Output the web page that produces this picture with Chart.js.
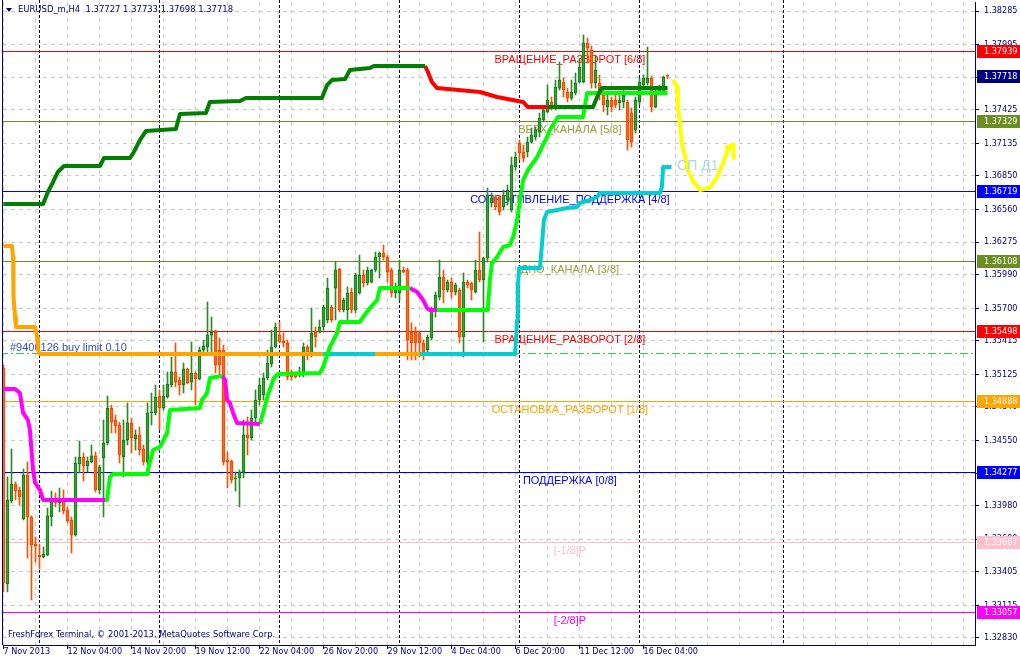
<!DOCTYPE html>
<html><head><meta charset="utf-8">
<script src="https://cdn.jsdelivr.net/npm/chart.js@4/dist/chart.umd.min.js"></script>
<style>html,body{margin:0;padding:0;background:#fff;}canvas{display:block;}</style>
</head><body>
<canvas id="c" width="1020" height="660"></canvas>
<script>
// ---------------- DATA ----------------
const symbolTitle = 'EURUSD_m,H4';
const lastBarOHLC = [1.37727, 1.37733, 1.37698, 1.37718];
const footerText = 'FreshForex Terminal, \u00A9 2001-2013, MetaQuotes Software Corp.';
const timeLabels = ['7 Nov 2013','12 Nov 04:00','14 Nov 20:00','19 Nov 12:00','22 Nov 04:00','26 Nov 20:00','29 Nov 12:00','4 Dec 04:00','6 Dec 20:00','11 Dec 12:00','16 Dec 04:00'];
const priceTicks = [1.32830,1.33115,1.33405,1.33690,1.33980,1.34265,1.34550,1.34840,1.35125,1.35415,1.35700,1.35990,1.36275,1.36560,1.36850,1.37135,1.37425,1.37710,1.37995,1.38285];
const weekSeparators = [9, 39, 69, 99, 129, 159, 195];

const opens = [
1.35179,1.33300,1.34022,1.34170,1.34118,1.33866,1.34248,1.33883,1.33648,1.33552,
1.33535,1.33552,1.33883,1.34048,1.34005,1.34040,1.33944,1.33857,1.33726,1.34344,
1.34405,1.34327,1.34362,1.34414,1.34118,1.34396,1.34527,1.34831,1.34727,1.34683,
1.34405,1.34553,1.34701,1.34562,1.34597,1.34475,1.34362,1.34788,1.34788,1.34936,
1.34831,1.34927,1.35031,1.35145,1.35075,1.35031,1.35171,1.35057,1.35136,1.35084,
1.35336,1.35362,1.35466,1.35492,1.35336,1.35336,1.34379,1.34370,1.34214,1.34222,
1.34275,1.34597,1.34570,1.34744,1.34901,1.34944,1.35092,1.35214,1.35362,1.35466,
1.35414,1.35397,1.35145,1.35136,1.35118,1.35118,1.35362,1.35292,1.35492,1.35492,
1.35536,1.35597,1.35710,1.35875,1.36040,1.35684,1.35684,1.35840,1.35684,1.35832,
1.35988,1.35919,1.35927,1.36032,1.36145,1.36180,1.36145,1.36032,1.35832,1.35832,
1.36032,1.36032,1.35492,1.35492,1.35484,1.35397,1.35336,1.35440,1.35701,1.35797,
1.35971,1.35858,1.35927,1.35840,1.35858,1.35449,1.35927,1.35919,1.35840,1.36032,
1.35945,1.36136,1.36615,1.36667,1.36667,1.36580,1.36641,1.36554,1.36928,1.37137,
1.37059,1.37059,1.37145,1.37189,1.37232,1.37337,1.37407,1.37494,1.37442,1.37615,
1.37668,1.37581,1.37528,1.37572,1.37668,1.37668,1.38007,1.37946,1.37659,1.37659,
1.37555,1.37450,1.37511,1.37511,1.37485,1.37494,1.37494,1.37398,1.37250,1.37494,
1.37641,1.37659,1.37702,1.37450,1.37581,1.37581,1.37727];
const highs = [
1.35205,1.34231,1.34475,1.34188,1.34144,1.34301,1.34362,1.33892,1.33709,1.33648,
1.33622,1.33961,1.34109,1.34092,1.34135,1.34118,1.33970,1.33883,1.34405,1.34544,
1.34440,1.34405,1.34510,1.34449,1.34335,1.34727,1.34936,1.34857,1.34770,1.34709,
1.34727,1.34875,1.34744,1.34640,1.34666,1.34510,1.34875,1.34962,1.35031,1.34988,
1.35031,1.35145,1.35275,1.35397,1.35101,1.35223,1.35179,1.35406,1.35145,1.35362,
1.35423,1.35754,1.35623,1.35510,1.35440,1.35379,1.34449,1.34379,1.34275,1.34292,
1.34727,1.34753,1.34814,1.34988,1.35092,1.35136,1.35336,1.35510,1.35571,1.35580,
1.35484,1.35423,1.35162,1.35145,1.35188,1.35397,1.35379,1.35701,1.35536,1.35597,
1.35727,1.35962,1.35727,1.36101,1.36049,1.35788,1.35884,1.35875,1.36006,1.36162,
1.36032,1.36058,1.36040,1.36188,1.36188,1.36249,1.36162,1.36049,1.35919,1.36119,
1.36058,1.36049,1.35571,1.35536,1.35492,1.35423,1.35466,1.35710,1.35840,1.36119,
1.36032,1.35945,1.35962,1.35919,1.35875,1.36006,1.35945,1.35927,1.36119,1.36363,
1.36145,1.36745,1.36702,1.36684,1.36684,1.36728,1.36771,1.37015,1.37059,1.37163,
1.37119,1.37189,1.37267,1.37276,1.37398,1.37450,1.37641,1.37537,1.37685,1.37842,
1.37702,1.37615,1.37685,1.37746,1.37876,1.38077,1.38050,1.37981,1.37902,1.37728,
1.37598,1.37555,1.37537,1.37555,1.37555,1.37598,1.37511,1.37442,1.37537,1.37702,
1.37728,1.37972,1.37720,1.37598,1.37641,1.37720,1.37733];
const lows = [
1.33231,1.33231,1.34005,1.34031,1.33987,1.33857,1.33526,1.33161,1.33492,1.33431,
1.33526,1.33544,1.33805,1.33970,1.33927,1.33909,1.33831,1.33570,1.33717,1.34266,
1.34196,1.34275,1.34353,1.34100,1.34083,1.33883,1.34510,1.34614,1.34614,1.34353,
1.34231,1.34510,1.34440,1.34466,1.34422,1.34335,1.34335,1.34683,1.34770,1.34640,
1.34814,1.34918,1.35014,1.35014,1.34944,1.34962,1.35040,1.34988,1.34857,1.35075,
1.35310,1.35310,1.35310,1.35136,1.35101,1.34335,1.34135,1.34179,1.34109,1.33970,
1.34222,1.34422,1.34553,1.34709,1.34857,1.34901,1.35075,1.35188,1.35353,1.35397,
1.35362,1.35075,1.35075,1.35092,1.35101,1.35101,1.35249,1.35275,1.35362,1.35484,
1.35510,1.35571,1.35580,1.35597,1.35667,1.35667,1.35597,1.35658,1.35658,1.35823,
1.35884,1.35901,1.35919,1.36014,1.35962,1.36119,1.35927,1.35797,1.35788,1.35771,
1.36006,1.35249,1.35249,1.35249,1.35275,1.35249,1.35310,1.35423,1.35623,1.35771,
1.35745,1.35840,1.35788,1.35814,1.35397,1.35275,1.35875,1.35771,1.35832,1.35927,
1.35406,1.36101,1.36580,1.36554,1.36511,1.36554,1.36597,1.36537,1.36902,1.36989,
1.36972,1.37015,1.37137,1.37163,1.37189,1.37320,1.37398,1.37424,1.37424,1.37598,
1.37537,1.37494,1.37511,1.37555,1.37659,1.37659,1.37833,1.37615,1.37615,1.37511,
1.37407,1.37381,1.37407,1.37442,1.37424,1.37442,1.37076,1.37102,1.37224,1.37468,
1.37598,1.37641,1.37407,1.37442,1.37555,1.37555,1.37698];
const closes = [
1.33309,1.34031,1.34170,1.34109,1.34057,1.34248,1.33883,1.33639,1.33631,1.33535,
1.33561,1.33892,1.34048,1.34005,1.34040,1.33935,1.33848,1.33726,1.34353,1.34405,
1.34327,1.34370,1.34414,1.34118,1.34318,1.34527,1.34831,1.34709,1.34675,1.34422,
1.34553,1.34701,1.34570,1.34597,1.34466,1.34362,1.34788,1.34797,1.34927,1.34831,
1.34936,1.35040,1.35145,1.35057,1.35031,1.35171,1.35049,1.35136,1.35084,1.35336,
1.35371,1.35466,1.35492,1.35205,1.35205,1.34362,1.34362,1.34205,1.34222,1.34275,
1.34597,1.34570,1.34744,1.34901,1.35031,1.35092,1.35223,1.35362,1.35536,1.35406,
1.35397,1.35101,1.35101,1.35101,1.35145,1.35362,1.35292,1.35484,1.35449,1.35536,
1.35710,1.35875,1.35597,1.36032,1.35684,1.35771,1.35832,1.35684,1.35988,1.35988,
1.35919,1.36032,1.36032,1.36145,1.36180,1.36145,1.36014,1.35832,1.35875,1.36032,
1.36014,1.35423,1.35397,1.35397,1.35397,1.35318,1.35449,1.35701,1.35814,1.35971,
1.35858,1.35927,1.35840,1.35901,1.35449,1.35927,1.35901,1.35858,1.36032,1.35945,
1.36136,1.36684,1.36658,1.36580,1.36537,1.36684,1.36728,1.36946,1.37015,1.37050,
1.37006,1.37145,1.37206,1.37250,1.37354,1.37424,1.37511,1.37442,1.37624,1.37685,
1.37598,1.37528,1.37581,1.37659,1.37798,1.38007,1.37963,1.37659,1.37772,1.37555,
1.37468,1.37511,1.37450,1.37468,1.37511,1.37555,1.37163,1.37145,1.37511,1.37668,
1.37702,1.37702,1.37450,1.37581,1.37624,1.37711,1.37718];

// indicator lines: [bar index, price]
const upperGreenA = [[0,1.36606],[9.9,1.36606],[11.1,1.36711],[12.4,1.36798],[13.6,1.36885],[15.1,1.36937],[24.1,1.36937],[25.1,1.37006],[31.6,1.37006],[32.6,1.37059],[34.1,1.37163],[35.6,1.37241],[43.1,1.37259],[44.1,1.37390],[50.6,1.37398],[51.6,1.37494],[59.1,1.37502],[60.6,1.37528],[79.6,1.37528],[80.9,1.37641],[82.1,1.37685],[85.4,1.37694],[86.6,1.37772],[91.6,1.37789],[92.6,1.37807],[105.4,1.37807]];
const upperRedA = [[105.4,1.37807],[106.1,1.37755],[107.1,1.37668],[108.4,1.37615],[119.1,1.37581],[123.4,1.37537],[129.9,1.37494],[131.1,1.37450],[136.1,1.37450]];
const upperGreenB = [[136.1,1.37450],[147.4,1.37450],[148.6,1.37555],[149.6,1.37615],[166,1.37615]];
const upperRedB = [[140.9,1.37450],[144.1,1.37450]];
const midMagentaA = [[0,1.34997],[2.9,1.34997],[4.1,1.34962],[4.9,1.34788],[6.1,1.34727],[6.6,1.34640],[7.4,1.34292],[7.9,1.34179],[9.1,1.34118],[9.9,1.34031],[25.4,1.34031]];
const midLimeA = [[25.4,1.34031],[25.9,1.34031],[26.6,1.34231],[27.4,1.34257],[35.9,1.34257],[36.1,1.34292],[37.4,1.34466],[39.1,1.34492],[40.9,1.34614],[41.6,1.34814],[49.1,1.34831],[49.6,1.34901],[50.9,1.34962],[51.6,1.35092],[54.6,1.35110]];
const midMagentaB = [[54.6,1.35110],[55.4,1.35075],[55.9,1.34901],[56.6,1.34875],[57.4,1.34788],[58.4,1.34701],[64.1,1.34692]];
const midLimeB = [[64.1,1.34692],[65.1,1.34814],[66.1,1.34944],[67.6,1.35092],[68.6,1.35127],[79.1,1.35136],[79.9,1.35188],[81.6,1.35362],[83.4,1.35484],[84.1,1.35580],[89.1,1.35580],[89.9,1.35623],[91.6,1.35701],[93.4,1.35771],[94.1,1.35875],[101.6,1.35875]];
const midMagentaC = [[101.6,1.35875],[103.4,1.35840],[104.9,1.35771],[105.9,1.35701],[106.6,1.35684],[108.4,1.35684]];
const midLimeC = [[108.4,1.35684],[120.9,1.35684],[121.1,1.35710],[121.6,1.35945],[122.1,1.36093],[123.4,1.36145],[124.9,1.36232],[126.6,1.36249],[127.4,1.36319],[128.4,1.36467],[129.9,1.36815],[131.1,1.36902],[133.4,1.37015],[134.6,1.37102],[135.9,1.37189],[136.6,1.37250],[138.6,1.37363],[144.9,1.37363],[145.9,1.37572],[166,1.37572]];
const lowOrangeA = [[0,1.36241],[2.1,1.36241],[2.4,1.36145],[2.4,1.35971],[2.6,1.35797],[2.9,1.35623],[3.1,1.35536],[7.9,1.35536],[8.4,1.35449],[8.6,1.35336],[9.1,1.35301],[79.9,1.35301]];
const lowCyanA = [[79.9,1.35301],[92.9,1.35301]];
const lowOrangeB = [[92.9,1.35301],[104.1,1.35301]];
const lowCyanB = [[104.1,1.35301],[127.9,1.35301],[128.4,1.35597],[128.6,1.35884],[128.9,1.36049],[134.1,1.36049],[134.6,1.36249],[135.1,1.36467],[135.9,1.36537],[140.9,1.36571],[143.4,1.36580],[144.1,1.36615],[146.6,1.36641],[148.4,1.36667],[149.1,1.36702],[164.1,1.36702],[164.6,1.36754],[164.9,1.36928],[167,1.36928]];
const forecastPath = [[167.4,1.37685],[168.4,1.37624],[168.6,1.37450],[169.1,1.37310],[169.6,1.37137],[170.4,1.37015],[171.1,1.36902],[172.4,1.36806],[174.1,1.36728],[176.6,1.36745],[178.4,1.36841],[179.9,1.36963],[181.1,1.37076],[182.1,1.37120]];
const forecastArrow = [[180.4,1.37094],[182.5,1.37124],[182.5,1.37006]];

// Murrey levels
const levelPrices = [1.37939,1.37329,1.36719,1.36108,1.35498,1.34888,1.34277,1.33667,1.33057];
const levelNames = ['ВРАЩЕНИЕ_РАЗВОРОТ [6/8]','ВЕРХ_КАНАЛА [5/8]','СОПРОТИВЛЕНИЕ_ПОДДЕРЖКА [4/8]','ДНО_КАНАЛА [3/8]','ВРАЩЕНИЕ_РАЗВОРОТ [2/8]','ОСТАНОВКА_РАЗВОРОТ [1/8]','ПОДДЕРЖКА [0/8]','[-1/8]P','[-2/8]P'];
const levelLabelBar = 141.6;
const orderPrice = 1.35310;
const orderText = '#9400126 buy limit 0.10';
const noteText = 'СП Д1';
const noteAnchor = [168.4, 1.36937];

// ---------------- STYLE ----------------
const NAVY = '#00007F';
const AXIS_FONT = '"DejaVu Sans Condensed","DejaVu Sans",sans-serif';
const TEXT_FONT = '"Liberation Sans",Arial,sans-serif';
const levelLineColors = ['#FF0000','#6B8E23','#0000FF','#6B8E23','#FF0000','#FFA500','#0000CD','#FFC0CB','#FF00FF'];
const levelTextColors = ['#FF0000','#9C9C3C','#0000FF','#9C9C3C','#FF0000','#FFA500','#0000FF','#FFC0CB','#FF00FF'];
const BULL_FILL = '#2EAA2E', BULL_EDGE = '#1C6E1C', BULL_WICK = '#2A8A2A';
const BEAR_FILL = '#FF6A10', BEAR_EDGE = '#F04000', BEAR_WICK = '#FF5000';

const isBull = i => closes[i] >= opens[i];
const toXY = arr => arr.map(([x, y]) => ({x, y}));
const lineDs = (arr, color, w) => ({type:'line', data: toXY(arr), borderColor: color, borderWidth: w || 4,
  pointRadius: 0, fill: false, tension: 0, borderJoinStyle: 'round', borderCapStyle: 'butt', order: 1});

const priceBoxes = [
  {p: levelPrices[0], bg: '#FF0000'}, {p: lastBarOHLC[3], bg: '#000080'}, {p: levelPrices[1], bg: '#6B8E23'},
  {p: levelPrices[2], bg: '#0000FF'}, {p: levelPrices[3], bg: '#6B8E23'}, {p: levelPrices[4], bg: '#FF0000'},
  {p: levelPrices[5], bg: '#FFA500'}, {p: levelPrices[6], bg: '#0000FF'}, {p: levelPrices[7], bg: '#FFC0CB'},
  {p: levelPrices[8], bg: '#FF00FF'}];

const decor = {
  id: 'decor',
  beforeDraw(chart) {
    const ctx = chart.ctx; ctx.save(); ctx.fillStyle = '#fff'; ctx.fillRect(0, 0, chart.width, chart.height); ctx.restore();
  },
  beforeDatasetsDraw(chart) {
    const {ctx, chartArea: a, scales: {x, y}} = chart;
    ctx.save();
    ctx.beginPath(); ctx.rect(a.left, 0, a.right - a.left, a.bottom); ctx.clip();
    ctx.strokeStyle = NAVY; ctx.lineWidth = 1; ctx.setLineDash([3, 2]);
    weekSeparators.forEach(b => {
      const px = Math.floor(x.getPixelForValue(b)) + 0.5;
      ctx.beginPath(); ctx.moveTo(px, 0); ctx.lineTo(px, a.bottom); ctx.stroke();
    });
    ctx.setLineDash([]);
    levelPrices.forEach((p, k) => {
      const py = Math.round(y.getPixelForValue(p)) + 0.5;
      ctx.strokeStyle = levelLineColors[k];
      ctx.beginPath(); ctx.moveTo(0, py); ctx.lineTo(a.right, py); ctx.stroke();
    });
    const oy = Math.round(y.getPixelForValue(orderPrice)) + 0.5;
    ctx.strokeStyle = '#32CD32'; ctx.setLineDash([8, 3, 2, 3]);
    ctx.beginPath(); ctx.moveTo(0, oy); ctx.lineTo(a.right, oy); ctx.stroke();
    ctx.setLineDash([]);
    ctx.font = '11px ' + TEXT_FONT; ctx.textBaseline = 'top'; ctx.textAlign = 'center';
    const lx = x.getPixelForValue(levelLabelBar);
    levelPrices.forEach((p, k) => {
      ctx.fillStyle = levelTextColors[k];
      ctx.fillText(levelNames[k], lx, Math.round(y.getPixelForValue(p)) + 3);
    });
    ctx.textAlign = 'left'; ctx.textBaseline = 'bottom'; ctx.fillStyle = '#3050C0';
    ctx.fillText(orderText, 10, oy - 0.5);
    ctx.restore();
  },
  afterDraw(chart) {
    const {ctx, chartArea: a, scales: {x, y}} = chart;
    ctx.save();
    ctx.strokeStyle = NAVY; ctx.lineWidth = 1;
    ctx.beginPath(); ctx.moveTo(2.5, 0); ctx.lineTo(2.5, a.bottom); ctx.stroke();
    ctx.font = '14px ' + TEXT_FONT; ctx.fillStyle = '#ADD8E6'; ctx.textAlign = 'left'; ctx.textBaseline = 'middle';
    ctx.fillText(noteText, x.getPixelForValue(noteAnchor[0]), y.getPixelForValue(noteAnchor[1]));
    ctx.font = '9px ' + AXIS_FONT;
    priceBoxes.forEach(b => {
      const py = Math.round(y.getPixelForValue(b.p));
      ctx.fillStyle = b.bg; ctx.fillRect(977, py - 6, 43, 13);
      ctx.fillStyle = '#FFFFFF'; ctx.fillText(b.p.toFixed(5), 984, py + 0.5);
    });
    ctx.font = '9.4px ' + AXIS_FONT;
    ctx.fillStyle = NAVY;
    ctx.beginPath(); ctx.moveTo(6, 8); ctx.lineTo(12, 8); ctx.lineTo(9, 12); ctx.closePath(); ctx.fill();
    ctx.fillText(symbolTitle + '  ' + lastBarOHLC.map(v => v.toFixed(5)).join(' '), 18, 10);
    ctx.fillText(footerText, 8, 635);
    ctx.restore();
  }
};

new Chart(document.getElementById('c'), {
  type: 'bar',
  data: {
    datasets: [
      {type:'bar', data: highs.map((h, i) => ({x: i, y: [lows[i], h]})), barThickness: 1, grouped: false,
       backgroundColor: c => isBull(c.dataIndex) ? BULL_WICK : BEAR_WICK, borderWidth: 0, order: 20},
      {type:'bar', data: opens.map((o, i) => ({x: i, y: [o, closes[i]]})), barThickness: 3, grouped: false, minBarLength: 1,
       backgroundColor: c => isBull(c.dataIndex) ? BULL_FILL : BEAR_FILL,
       borderColor: c => isBull(c.dataIndex) ? BULL_EDGE : BEAR_EDGE, borderWidth: 1, borderSkipped: false, order: 19},
      lineDs(upperGreenA, '#008000'), lineDs(upperRedA, '#FF0000'), lineDs(upperGreenB, '#008000'), lineDs(upperRedB, '#FF0000'),
      lineDs(midMagentaA, '#FF00FF'), lineDs(midLimeA, '#00FF00'), lineDs(midMagentaB, '#FF00FF'), lineDs(midLimeB, '#00FF00'),
      lineDs(midMagentaC, '#FF00FF'), lineDs(midLimeC, '#00FF00'),
      lineDs(lowOrangeA, '#FFA500'), lineDs(lowCyanA, '#00CED1'), lineDs(lowOrangeB, '#FFA500'), lineDs(lowCyanB, '#00CED1'),
      lineDs(forecastPath, '#FFFF00'), lineDs(forecastArrow, '#FFFF00')
    ]
  },
  options: {
    responsive: false, animation: false, devicePixelRatio: 1,
    layout: {padding: {left: 3, top: 2, right: 0, bottom: 0}},
    plugins: {legend: {display: false}, tooltip: {enabled: false}},
    scales: {
      x: {
        type: 'linear', min: -0.125, max: 242.875, offset: false, position: 'bottom',
        afterBuildTicks: s => { s.ticks = []; for (let v = 0; v <= 240; v += 8) s.ticks.push({value: v}); },
        afterFit: s => { s.height = 15; s.paddingLeft = 0; s.paddingRight = 0; },
        ticks: {autoSkip: false, maxRotation: 0, minRotation: 0, align: 'start', padding: -2, color: NAVY,
          font: {family: AXIS_FONT, size: 9, lineHeight: 1},
          callback: v => (v % 16 === 0 && v / 16 < timeLabels.length) ? timeLabels[v / 16] : ''},
        grid: {color: '#CCCCCC', offset: false, tickLength: 4, tickBorderDash: [],
          tickColor: c => (c.tick && c.tick.value % 16 === 0 && c.tick.value <= 160) ? NAVY : 'rgba(0,0,0,0)'},
        border: {color: NAVY, dash: [4, 4]}
      },
      y: {
        type: 'linear', position: 'right', min: 1.32769, max: 1.38364,
        afterBuildTicks: s => { s.ticks = priceTicks.map(v => ({value: v})); },
        afterFit: s => { s.width = 45; s.paddingTop = 0; s.paddingBottom = 0; },
        ticks: {autoSkip: false, padding: 5, color: NAVY, font: {family: AXIS_FONT, size: 9}, callback: v => Number(v).toFixed(5)},
        grid: {color: '#CCCCCC', tickLength: 4, tickColor: NAVY, tickBorderDash: []},
        border: {color: NAVY, dash: [4, 4]}
      }
    }
  },
  plugins: [decor]
});
</script>
</body></html>
